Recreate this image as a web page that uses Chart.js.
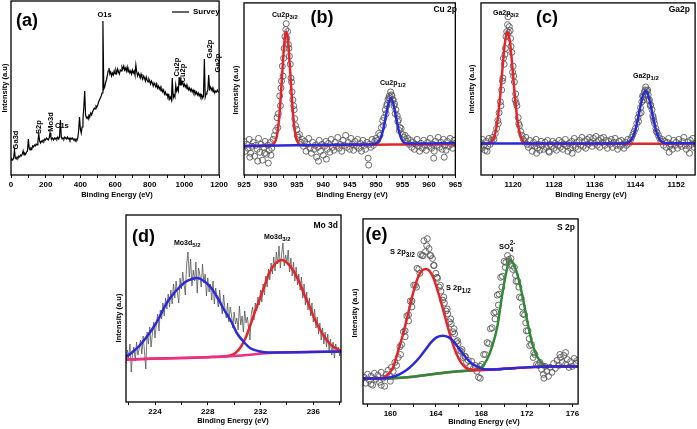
<!DOCTYPE html>
<html>
<head>
<meta charset="utf-8">
<script src="https://cdn.jsdelivr.net/npm/chart.js@4.4.1/dist/chart.umd.min.js"></script>
<style>
    html, body { margin: 0; padding: 0; background: #fff; }
    body { width: 697px; height: 429px; position: relative; overflow: hidden; }
    canvas { position: absolute; }
</style>
</head>
<body>
<canvas id="survey-chart"></canvas>
<canvas id="cu-chart"></canvas>
<canvas id="ga-chart"></canvas>
<canvas id="mo-chart"></canvas>
<canvas id="s-chart"></canvas>
<script>
// ---- dados (intensidade em unidades arbitrarias) ----

// (a) survey, 0-1200 eV a cada 5 eV
const surveyStart = 0, surveyStep = 5;
const surveyCounts = [
    15, 16, 15, 17, 25, 17, 16, 18, 17, 19, 18, 20, 19, 21, 24, 20, 22, 21, 23, 24,
    36, 27, 25, 27, 26, 29, 28, 30, 29, 31, 30, 33, 41, 34, 32, 34, 33, 35, 34, 36,
    35, 37, 36, 35, 37, 42, 38, 36, 37, 35, 37, 36, 37, 36, 38, 36, 38, 55, 38, 36,
    37, 36, 38, 37, 36, 38, 36, 37, 35, 37, 36, 37, 35, 36, 34, 36, 35, 37, 44, 58,
    46, 42, 48, 56, 68, 84, 60, 57, 58, 56, 60, 59, 62, 60, 63, 65, 67, 66, 69, 68,
    70, 73, 75, 77, 79, 82, 154, 86, 88, 92, 95, 99, 104, 107, 101, 103, 99, 102, 100, 104,
    101, 105, 102, 106, 103, 101, 105, 104, 108, 106, 109, 105, 107, 104, 108, 103, 105, 102, 104, 101,
    105, 102, 104, 100, 110, 103, 99, 102, 100, 97, 101, 98, 96, 99, 97, 94, 98, 95, 93, 96,
    94, 91, 94, 92, 89, 92, 90, 88, 91, 87, 89, 86, 88, 84, 86, 83, 85, 81, 83, 80,
    81, 78, 80, 76, 78, 75, 97, 77, 80, 78, 90, 84, 87, 84, 98, 90, 95, 91, 93, 89,
    91, 88, 90, 86, 88, 85, 87, 84, 86, 83, 85, 82, 84, 81, 83, 80, 82, 79, 81, 78,
    80, 77, 79, 116, 78, 81, 83, 85, 100, 86, 88, 85, 87, 83, 85, 82, 84, 83, 85, 83,
    83
];
const surveyTicks = [0, 100, 200, 300, 400, 500, 600, 700, 800, 900, 1000, 1100, 1200];
const surveyLabels = [0, 200, 400, 600, 800, 1000, 1200];

// (b) Cu 2p
const cuStart = 925, cuStep = 0.25;
const cuCounts = [
    34, 24, 31, 27, 36, 22, 29, 33,
    19, 30, 26, 37, 23, 31, 15, 28,
    34, 21, 30, 25, 33, 27, 36, 40,
    45, 58, 62, 80, 88, 110, 118, 140,
    153, 145, 128, 112, 94, 76, 66, 50,
    46, 38, 41, 33, 36, 29, 34, 24,
    31, 37, 27, 22, 33, 26, 30, 18,
    28, 35, 24, 31, 20, 29, 34, 26,
    32, 23, 36, 28, 25, 33, 29, 38,
    27, 31, 24, 35, 30, 40, 28, 33,
    26, 37, 31, 25, 34, 29, 36, 27,
    32, 24, 35, 30, 26, 33, 17, 31,
    28, 36, 30, 34, 37, 35, 42, 40,
    48, 55, 58, 66, 70, 76, 80, 84,
    80, 76, 72, 66, 60, 56, 48, 47,
    41, 38, 40, 34, 37, 31, 35, 28,
    33, 26, 31, 36, 29, 24, 32, 27,
    35, 30, 25, 33, 29, 37, 27, 31,
    24, 34, 30, 38, 28, 33, 26, 36,
    30, 25, 34, 29, 37, 31, 27, 35,
    32
];
const cuExtra = [
    [931.4, 48], [931.9, 70], [932.1, 95], [932.4, 100], [932.6, 128], [932.9, 147], [933.1, 138],
    [933.4, 132], [933.6, 120], [933.9, 98], [934.1, 84], [934.4, 70], [934.6, 57], [935.1, 40],
    [951.4, 50], [951.9, 62], [952.1, 72], [952.4, 78], [952.6, 77], [952.9, 81], [953.1, 76],
    [953.4, 70], [953.6, 62], [954.1, 54], [954.4, 45], [926.1, 18], [927.6, 14], [928.9, 22],
    [929.6, 12], [930.1, 20], [939.1, 14], [940.6, 16], [948.6, 10], [960.9, 17], [962.9, 18]
];
const cuRedFit = [
    [925, 29.2], [928, 29.5], [929.5, 29.8], [930.5, 30.9], [931, 35.1], [931.25, 40.5], [931.5, 49.8],
    [931.75, 63.9], [932, 82.7], [932.25, 104.1], [932.5, 124.6], [932.75, 139.5], [933, 145],
    [933.25, 139.5], [933.5, 124.6], [933.75, 104.1], [934, 82.7], [934.25, 63.9], [934.5, 49.8],
    [934.75, 40.5], [935, 35.1], [935.5, 31], [936, 30.2], [940, 30.2], [950, 30.6], [957, 30.9], [965, 31.2]
];
const cuBlueFit = [
    [925, 29.3], [935, 30], [945, 30.8], [949.5, 31.2], [950.3, 32.9], [950.8, 36.5], [951.3, 44.7],
    [951.8, 57.9], [952.3, 71.5], [952.8, 77.5], [953.3, 71.5], [953.8, 57.9], [954.3, 44.7],
    [954.8, 36.5], [955.3, 32.9], [955.8, 31.9], [957, 31.8], [965, 32.3]
];
const cuTicks = [925, 927.5, 930, 932.5, 935, 937.5, 940, 942.5, 945, 947.5, 950, 952.5, 955, 957.5, 960, 962.5, 965];
const cuLabels = [925, 930, 935, 940, 945, 950, 955, 960, 965];

// (c) Ga 2p
const gaStart = 1113.5, gaStep = 0.25;
const gaCounts = [
    33, 27, 36, 30, 25, 34, 29, 37,
    31, 35, 38, 36, 42, 47, 55, 63,
    74, 86, 98, 112, 128, 145, 160, 150,
    138, 124, 110, 94, 82, 70, 58, 50,
    44, 40, 36, 34, 38, 31, 28, 35,
    30, 24, 33, 29, 36, 27, 31, 25,
    34, 30, 26, 33, 28, 35, 24, 31,
    29, 34, 27, 32, 25, 30, 35, 28,
    33, 26, 31, 36, 29, 24, 32, 27,
    34, 30, 37, 28, 33, 26, 35, 30,
    38, 29, 34, 27, 36, 31, 38, 33,
    29, 37, 32, 39, 30, 35, 28, 37,
    33, 38, 30, 35, 27, 34, 31, 36,
    28, 33, 37, 30, 26, 34, 29, 35,
    31, 27, 33, 30, 36, 32, 35, 38,
    41, 44, 47, 52, 58, 62, 68, 74,
    79, 84, 89, 85, 81, 76, 71, 66,
    58, 52, 47, 43, 40, 37, 34, 36,
    30, 34, 28, 33, 37, 29, 31, 26,
    35, 30, 33, 27, 36, 31, 29, 34,
    38, 30, 26, 33, 29, 35, 31, 37,
    28, 32
];
const gaExtra = [
    [1117.1, 52], [1117.6, 70], [1117.9, 95], [1118.1, 118], [1118.4, 122], [1118.6, 140], [1118.9, 152],
    [1119.1, 144], [1119.4, 146], [1119.6, 130], [1119.9, 104], [1120.1, 100], [1120.4, 76], [1120.6, 73],
    [1121.1, 52], [1144.6, 54], [1145.1, 63], [1145.4, 80], [1145.6, 76], [1145.9, 86], [1146.1, 82],
    [1146.4, 86], [1146.6, 75], [1146.9, 70], [1147.4, 60], [1147.6, 55], [1148.1, 44],
    [1114.9, 24], [1124.6, 22], [1127.1, 23], [1131.6, 22], [1150.6, 23], [1154.6, 22]
];
const gaRedFit = [
    [1113.7, 31.5], [1114.9, 31.6], [1115.4, 32.4], [1115.9, 34.5], [1116.4, 40.3], [1116.9, 53.4],
    [1117.4, 76.4], [1117.9, 106.6], [1118.4, 133.9], [1118.9, 145], [1119.4, 133.9], [1119.9, 106.6],
    [1120.4, 76.4], [1120.9, 53.4], [1121.4, 40.3], [1121.9, 34.5], [1122.4, 32.4], [1122.9, 31.7],
    [1140, 31.5], [1155.7, 31.5]
];
const gaBlueFit = [
    [1113.7, 31.8], [1142, 31.8], [1142.5, 32.6], [1143, 34.4], [1143.5, 38.5], [1144, 45.9], [1144.5, 57],
    [1145, 70], [1145.5, 80.8], [1146, 85], [1146.5, 80.8], [1147, 70], [1147.5, 57], [1148, 45.9],
    [1148.5, 38.5], [1149, 34.4], [1149.5, 32.6], [1150, 32], [1155.7, 32]
];
const gaTicks = [1116, 1120, 1124, 1128, 1132, 1136, 1140, 1144, 1148, 1152];
const gaLabels = [1120, 1128, 1136, 1144, 1152];

// (d) Mo 3d, a cada 0.1 eV
const moStart = 221.8, moStep = 0.1;
const moCounts = [
    38, 52,
    44, 58, 30, 49, 55, 41, 60, 47, 53, 62,
    48, 66, 51, 33, 70, 58, 75, 55, 68, 80,
    64, 78, 88, 71, 92, 83, 99, 86, 104, 93,
    108, 95, 112, 98, 118, 104, 121, 109, 99, 124,
    113, 130, 118, 107, 138, 150, 125, 143, 116, 132,
    121, 140, 109, 134, 127, 115, 138, 119, 128, 106,
    124, 110, 118, 102, 121, 98, 114, 104, 95, 112,
    98, 88, 107, 93, 84, 99, 80, 95, 87, 74,
    90, 78, 84, 72, 96, 77, 86, 70, 91, 79,
    85, 74, 62, 88, 95, 82, 99, 91, 105, 97,
    112, 100, 118, 107, 126, 115, 133, 122, 139, 128,
    145, 131, 150, 138, 156, 134, 148, 159, 136, 147,
    139, 152, 130, 144, 126, 140, 121, 135, 117, 128,
    112, 125, 104, 118, 97, 110, 92, 104, 86, 99,
    80, 93, 74, 85, 68, 79, 62, 74, 58, 70,
    55, 68, 50, 63, 47, 60, 44, 58, 49, 55,
    46, 53
];
const moBlueFit = [
    [221.8, 45], [222.3, 50], [222.8, 56], [223.3, 64], [223.9, 75], [224.3, 84], [224.8, 97], [225.2, 105],
    [225.8, 114], [226.3, 120], [226.8, 123], [227.2, 124], [227.8, 120], [228.2, 115], [228.8, 103],
    [229.2, 93], [229.8, 80], [230.2, 69], [230.8, 59], [231.2, 54], [231.8, 51], [232.3, 49.8],
    [233, 49.6], [235, 49.8], [238.1, 50.5]
];
const moRedFit = [
    [221.8, 42.5], [224, 43.5], [226, 44], [228, 44.8], [229, 45.3], [229.7, 46.5], [230.1, 49],
    [230.5, 55], [230.9, 65], [231.2, 76], [231.6, 91], [232, 105], [232.4, 120], [232.7, 130],
    [233.1, 138], [233.6, 142], [234.1, 138], [234.5, 131], [234.9, 121], [235.3, 108], [235.7, 96],
    [236, 86], [236.4, 75], [236.8, 66], [237.2, 59], [237.5, 55.5], [238.1, 51]
];
const moBaseline = [[221.8, 42.5], [226, 44], [230, 46], [233, 49.2], [238.1, 50.5]];
const moTicks = [222, 224, 226, 228, 230, 232, 234, 236, 238];
const moLabels = [224, 228, 232, 236];

// (e) S 2p
const sStart = 157.7, sStep = 0.15;
const sCounts = [
    27, 21, 30, 24, 28, 19, 31, 25, 29, 22,
    32, 26, 18, 30, 34, 28, 37, 33, 42, 39,
    47, 58, 60, 73, 74, 89, 90, 104, 104, 120,
    120, 137, 136, 151, 150, 165, 154, 167, 157, 150,
    147, 140, 132, 127, 118, 114, 105, 102, 94, 91,
    83, 81, 73, 71, 63, 61, 54, 53, 47, 48,
    42, 44, 38, 43, 36, 39, 33, 27, 38, 40,
    50, 50, 62, 61, 76, 77, 92, 93, 110, 111,
    128, 129, 144, 143, 150, 144, 147, 136, 138, 124,
    124, 108, 107, 91, 90, 74, 74, 59, 60, 47,
    50, 40, 39, 42, 35, 30, 38, 33, 28, 37,
    32, 41, 36, 44, 39, 47, 42, 49, 40, 45,
    37, 43, 38, 46, 41, 44
];
const sExtra = [
    [160.9, 50], [161.3, 68], [161.6, 84], [161.9, 98], [162.3, 118], [162.6, 132], [162.9, 150],
    [163.2, 160], [163.5, 150], [163.8, 140], [164.1, 128], [164.4, 120], [164.7, 108], [165.0, 96],
    [165.3, 86], [165.6, 76], [165.9, 64], [166.3, 55], [166.6, 48], [169.2, 86], [169.5, 100],
    [169.8, 118], [170.1, 138], [170.4, 146], [170.7, 140], [171.0, 130], [171.3, 118], [171.6, 98],
    [171.9, 82], [172.2, 66], [172.6, 52], [158.3, 20], [159.2, 19], [160.0, 23], [174.9, 50],
    [175.4, 52], [173.5, 26], [167.9, 26]
];
const sBaseline = [
    [157.6, 25.7], [160, 26], [161, 26.5], [162, 27.5], [163, 29], [164, 30.5], [165, 32], [166, 33],
    [167, 33.8], [168, 34.3], [170, 35.5], [172, 37], [174, 37.8], [176.5, 38]
];
const sRedFit = [
    [157.6, 25.7], [159, 26], [159.6, 28], [160.2, 36], [160.8, 58], [161.2, 74], [161.6, 93], [162, 112],
    [162.4, 127], [162.8, 135], [163.1, 136.5], [163.4, 135], [163.8, 127], [164.2, 113], [164.6, 97],
    [165, 80], [165.4, 64], [165.8, 51], [166.2, 42], [166.6, 37], [167.2, 34.5], [168, 34.3],
    [170, 35.5], [172, 37], [174, 37.8], [176.5, 38]
];
const sBlueFit = [
    [157.6, 25.7], [159.5, 26], [160.2, 27.5], [160.8, 30], [161.4, 34], [162, 40], [162.6, 47.5],
    [163.1, 55], [163.6, 62.5], [164.1, 67.5], [164.6, 69], [165.1, 67.5], [165.6, 62.5], [166.1, 55],
    [166.6, 47.5], [167.1, 41.5], [167.7, 37.5], [168.3, 35], [169, 34.8], [170, 35.5], [172, 37],
    [174, 37.8], [176.5, 38]
];
const sGreenFit = [
    [157.6, 25.7], [160, 26], [162, 27.5], [164, 30.5], [166, 33], [167.5, 34.5], [168, 37], [168.5, 45],
    [169, 60], [169.4, 78], [169.8, 108], [170.1, 128], [170.5, 145.5], [170.9, 140], [171.3, 125],
    [171.7, 104], [172.1, 80], [172.5, 60], [172.9, 48], [173.4, 40.5], [174, 38], [176.5, 38]
];
const sTicks = [158, 160, 162, 164, 166, 168, 170, 172, 174, 176];
const sLabels = [160, 164, 168, 172, 176];

// ---- desenho ----
const FONT = "'Liberation Sans', Arial, sans-serif";
const ML = 16, MT = 3, MR = 4, MB = 32;
const RED = '#e3262a', BLUE = '#2a2ad8', PINK = '#ec2f86', GREEN = '#2f8a36', DOTS = '#5a5a5a';

Chart.defaults.font.family = FONT;

function serie(start, step, values) {
    return values.map((v, i) => ({ x: +(start + i * step).toFixed(3), y: v }));
}
function pares(list) {
    return list.map(p => ({ x: p[0], y: p[1] }));
}
function linha(data, color, width, order, smooth) {
    return {
        data: data, showLine: true, borderColor: color, borderWidth: width, pointRadius: 0,
        order: order, cubicInterpolationMode: smooth ? 'monotone' : 'default', tension: 0
    };
}
function pontos(data, order) {
    return {
        data: data, showLine: false, pointRadius: 3, pointBorderWidth: 0.9,
        pointBorderColor: DOTS, pointBackgroundColor: 'rgba(0,0,0,0)', order: order
    };
}

// moldura e textos
const notesPlugin = {
    id: 'notes',
    afterDraw(chart, args, opts) {
        const ctx = chart.ctx;
        const a = chart.chartArea;
        const ox = opts.box.l - ML, oy = opts.box.t - MT;
        ctx.save();
        ctx.strokeStyle = '#000';
        ctx.lineWidth = 1.3;
        ctx.strokeRect(a.left, a.top, a.right - a.left, a.bottom - a.top);
        ctx.fillStyle = '#000';
        ctx.textBaseline = 'middle';
        opts.items.forEach(it => {
            const x = it.x - ox, y = it.y - oy;
            if (it.line) {
                ctx.lineWidth = 1.2;
                ctx.beginPath();
                ctx.moveTo(x, y);
                ctx.lineTo(it.line - ox, y);
                ctx.stroke();
                return;
            }
            const size = it.size || 7.5;
            ctx.font = 'bold ' + size + 'px ' + FONT;
            if (it.rot) {
                ctx.save();
                ctx.translate(x, y);
                ctx.rotate(-Math.PI / 2);
                ctx.textAlign = 'center';
                ctx.fillText(it.s, 0, 0);
                ctx.restore();
                return;
            }
            let w = ctx.measureText(it.s).width;
            let x0 = x;
            if (it.align === 'center') x0 = x - w / 2;
            if (it.align === 'right') x0 = x - w;
            ctx.textAlign = 'left';
            ctx.fillText(it.s, x0, y);
            const small = size * 0.85;
            ctx.font = 'bold ' + small + 'px ' + FONT;
            if (it.sub) ctx.fillText(it.sub, x0 + w, y + size * 0.38);
            if (it.sup) ctx.fillText(it.sup, x0 + w, y - size * 0.5);
        });
        ctx.restore();
    }
};

function painel(id, box, xMin, xMax, ticks, labels, datasets, items) {
    const cv = document.getElementById(id);
    const w = box.r - box.l + ML + MR, h = box.b - box.t + MT + MB;
    cv.style.left = (box.l - ML) + 'px';
    cv.style.top = (box.t - MT) + 'px';
    cv.width = w;
    cv.height = h;
    cv.style.width = w + 'px';
    cv.style.height = h + 'px';
    return new Chart(cv, {
        type: 'scatter',
        data: { datasets: datasets },
        options: {
            responsive: false,
            animation: false,
            devicePixelRatio: 1,
            layout: { padding: { left: 0, top: MT, right: MR, bottom: 0 } },
            plugins: {
                legend: { display: false },
                tooltip: { enabled: false },
                notes: { box: box, items: items }
            },
            scales: {
                x: {
                    type: 'linear', min: xMin, max: xMax,
                    afterFit: s => { s.height = MB; },
                    afterBuildTicks: s => { s.ticks = ticks.map(v => ({ value: v })); },
                    grid: { display: true, drawOnChartArea: false, drawTicks: true, tickLength: 3, color: '#000', lineWidth: 1 },
                    border: { display: false },
                    ticks: {
                        autoSkip: false, maxRotation: 0, padding: 2, color: '#000',
                        font: { family: FONT, size: 8, weight: 'bold' },
                        callback: v => labels.includes(v) ? String(v) : ''
                    }
                },
                y: {
                    type: 'linear', min: 0, max: box.b - box.t,
                    afterFit: s => { s.width = ML; },
                    ticks: { display: false },
                    grid: { display: false },
                    border: { display: false }
                }
            }
        },
        plugins: [notesPlugin]
    });
}

const xTitle = 'Binding Energy (eV)', yTitle = 'Intensity (a.u)';

// (a)
painel('survey-chart', { l: 11, t: 1, r: 226, b: 175 }, 0, 1200, surveyTicks, surveyLabels, [
    linha(serie(surveyStart, surveyStep, surveyCounts), '#000', 1.2, 1, false)
], [
    { s: '(a)', x: 16, y: 21, size: 18 },
    { x: 172, line: 189, y: 12 },
    { s: 'Survey', x: 193, y: 12, size: 8 },
    { s: 'O1s', x: 104.5, y: 15, align: 'center' },
    { s: 'C1s', x: 55, y: 126 },
    { s: 'Ga3d', x: 16, y: 140, rot: true },
    { s: 'S2p', x: 39, y: 127, rot: true },
    { s: 'Mo3d', x: 51, y: 122, rot: true },
    { s: 'Cu2p', x: 177, y: 67, rot: true },
    { s: 'Cu2p', x: 183, y: 73, rot: true },
    { s: 'Ga2p', x: 210, y: 49, rot: true },
    { s: 'Ga2p', x: 218, y: 63, rot: true },
    { s: xTitle, x: 117, y: 195, align: 'center' },
    { s: yTitle, x: 4.5, y: 88, rot: true }
]);

// (b)
painel('cu-chart', { l: 244, t: 1, r: 460, b: 175 }, 925, 965, cuTicks, cuLabels, [
    pontos(serie(cuStart, cuStep, cuCounts), 4),
    pontos(pares(cuExtra), 4),
    linha(pares(cuRedFit), RED, 2.5, 3, true),
    linha(pares(cuBlueFit), BLUE, 2.5, 2, true)
], [
    { s: '(b)', x: 322, y: 18, size: 18, align: 'center' },
    { s: 'Cu 2p', x: 457, y: 10, size: 8.5, align: 'right' },
    { s: 'Cu2p', sub: '3/2', x: 272, y: 15, size: 7 },
    { s: 'Cu2p', sub: '1/2', x: 380, y: 83, size: 7 },
    { s: xTitle, x: 352, y: 195, align: 'center' },
    { s: yTitle, x: 235.5, y: 90, rot: true }
]);

// (c)
painel('ga-chart', { l: 481, t: 1, r: 696, b: 175 }, 1113.7, 1155.7, gaTicks, gaLabels, [
    pontos(serie(gaStart, gaStep, gaCounts), 4),
    pontos(pares(gaExtra), 4),
    linha(pares(gaRedFit), RED, 2.5, 3, true),
    linha(pares(gaBlueFit), BLUE, 2.5, 2, true)
], [
    { s: '(c)', x: 547, y: 18, size: 18, align: 'center' },
    { s: 'Ga2p', x: 690, y: 10, size: 8.5, align: 'right' },
    { s: 'Ga2p', sub: '3/2', x: 493, y: 13, size: 7 },
    { s: 'Ga2p', sub: '1/2', x: 633, y: 76, size: 7 },
    { s: xTitle, x: 591, y: 195, align: 'center' },
    { s: yTitle, x: 472, y: 89, rot: true }
]);

// (d)
painel('mo-chart', { l: 126, t: 215, r: 341, b: 402 }, 221.8, 238.1, moTicks, moLabels, [
    linha(serie(moStart, moStep, moCounts), '#555', 0.8, 5, false),
    linha(pares(moRedFit), RED, 2.5, 4, true),
    linha(pares(moBaseline), PINK, 2.5, 3, true),
    linha(pares(moBlueFit), BLUE, 2.5, 2, true)
], [
    { s: '(d)', x: 143.5, y: 237, size: 18, align: 'center' },
    { s: 'Mo 3d', x: 338, y: 226, size: 8.5, align: 'right' },
    { s: 'Mo3d', sub: '5/2', x: 174, y: 243, size: 7 },
    { s: 'Mo3d', sub: '3/2', x: 264, y: 237, size: 7 },
    { s: xTitle, x: 233, y: 421, align: 'center' },
    { s: yTitle, x: 118.5, y: 318, rot: true }
]);

// (e)
painel('s-chart', { l: 363, t: 217, r: 579, b: 404 }, 157.6, 176.5, sTicks, sLabels, [
    pontos(serie(sStart, sStep, sCounts), 6),
    pontos(pares(sExtra), 6),
    linha(pares(sBaseline), PINK, 2.5, 5, true),
    linha(pares(sGreenFit), GREEN, 2.5, 4, true),
    linha(pares(sRedFit), RED, 2.5, 3, true),
    linha(pares(sBlueFit), BLUE, 2.5, 2, true)
], [
    { s: '(e)', x: 376.5, y: 235, size: 18, align: 'center' },
    { s: 'S 2p', x: 575, y: 228, size: 8.5, align: 'right' },
    { s: 'S 2p', sub: '3/2', x: 390, y: 252, size: 7.5 },
    { s: 'S 2p', sub: '1/2', x: 446, y: 288, size: 7.5 },
    { s: 'SO', sub: '4', sup: '2-', x: 499, y: 247, size: 7.5 },
    { s: xTitle, x: 484, y: 422, align: 'center' },
    { s: yTitle, x: 355, y: 313, rot: true }
]);
</script>
</body>
</html>
